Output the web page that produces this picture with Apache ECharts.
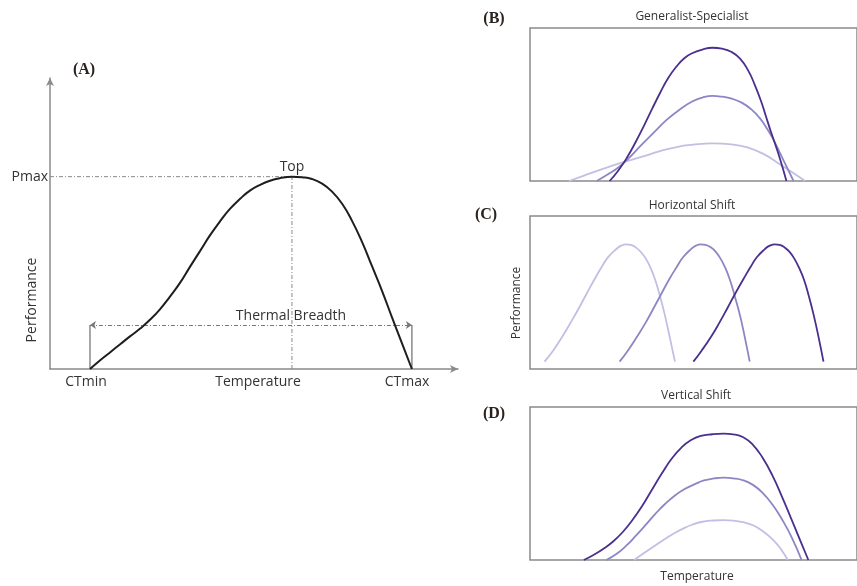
<!DOCTYPE html>
<html><head><meta charset="utf-8">
<script src="https://cdn.jsdelivr.net/npm/echarts@6/dist/echarts.min.js"></script>
<style>html,body{margin:0;padding:0;background:#fff}#chart{width:857px;height:586px}</style>
</head><body><div id="chart"></div>
<script>
// (A) thermal performance curve: temperature vs performance (arbitrary units)
const tpcTemp = [9.8, 12.3, 14.7, 17.2, 19.6, 22.1, 24.5, 27.0, 29.4, 31.9, 34.3, 36.8, 39.2, 41.7, 44.1, 46.6, 49.0, 51.5, 53.9, 56.4, 59.3,
                 61.8, 64.2, 66.7, 69.1, 71.6, 74.0, 76.5, 78.9, 81.4, 83.8, 86.3, 88.7];
const tpcPerf = [0, 3.0, 5.7, 8.5, 11.2, 13.9, 16.9, 20.6, 24.9, 29.7, 35.1, 40.6, 45.9, 50.8, 55.0, 58.5, 61.3, 63.3, 64.7, 65.6, 66.1,
                 65.9, 65.3, 63.7, 61.0, 56.8, 51.0, 43.6, 35.4, 26.8, 17.8, 8.7, 0];
const ctMin = 9.8, ctMax = 88.7, tOpt = 59.3, pMax = 66.1, breadthLevel = 15.1;

// (B) generalist-specialist trade-off
const bSpecT = [24.7, 27.3, 30.3, 32.8, 35.4, 37.9, 40.4, 42.9, 45.5, 48.0, 50.5, 53.5, 56.6, 59.6, 62.6, 65.2, 67.7, 69.7, 71.7, 73.2, 74.7, 76.3, 77.8, 79.6];
const bSpecP = [0, 6.5, 16.0, 25.5, 36.2, 47.1, 57.7, 67.3, 74.9, 80.4, 83.7, 85.9, 87.1, 86.5, 84.3, 80.0, 72.3, 63.2, 52.3, 42.5, 32.7, 22.9, 13.1, 0];
const bMidT = [20.7, 24.2, 27.3, 30.3, 34.3, 38.4, 42.4, 46.5, 50.5, 53.5, 56.6, 59.6, 62.6, 65.7, 68.7, 71.2, 73.7, 75.8, 77.8, 79.8, 81.8];
const bMidP = [0, 4.4, 8.7, 14.2, 22.9, 31.6, 39.9, 46.8, 52.1, 54.5, 55.6, 55.1, 53.8, 51.2, 46.8, 41.4, 33.8, 26.1, 17.4, 8.7, 0];
const bGenT = [12.1, 17.2, 22.2, 26.3, 30.3, 35.4, 40.4, 45.5, 50.5, 56.6, 62.6, 67.7, 72.7, 76.8, 80.8, 85.4];
const bGenP = [0, 3.9, 7.6, 10.5, 13.1, 16.3, 19.6, 22.2, 23.7, 24.6, 24.0, 21.8, 17.4, 12.0, 6.5, 0];

// (C) horizontal shift: one curve shape at three positions along temperature
const cPerf = [4.8, 11.8, 21.4, 30.3, 39.9, 49.7, 59.3, 66.5, 73.0, 78.4, 80.6, 81.5, 81.1, 79.5, 76.7, 72.3, 66.2, 58.0, 47.3, 34.9, 20.5, 4.8];
const cLowT = [4.5, 7.1, 10.1, 12.6, 15.2, 17.7, 20.2, 22.2, 24.2, 26.8, 28.3, 29.8, 31.3, 32.8, 34.3, 35.9, 37.4, 38.9, 40.4, 41.9, 43.4, 45.0];
const cMidT = [27.8, 30.3, 33.3, 35.9, 38.4, 40.9, 43.4, 45.5, 47.5, 50.0, 51.5, 53.0, 54.5, 56.1, 57.6, 59.1, 60.6, 62.1, 63.6, 65.2, 66.7, 68.2];
const cHighT = [50.7, 53.2, 56.3, 58.8, 61.3, 63.8, 66.4, 68.4, 70.4, 72.9, 74.4, 76.0, 77.5, 79.0, 80.5, 82.0, 83.5, 85.1, 86.6, 88.1, 89.6, 91.1];

// (D) vertical shift
const dHighT = [16.7, 19.7, 22.7, 25.8, 28.8, 31.8, 34.9, 37.9, 40.9, 43.9, 47.0, 50.0, 53.0, 56.6, 60.1,
                63.1, 66.2, 69.2, 72.2, 75.3, 78.3, 81.3, 83.8, 86.4];
const dHighP = [0, 3.3, 7.2, 12.1, 18.3, 26.1, 35.6, 46.1, 56.5, 66.0, 73.5, 78.4, 81.1, 82.2, 82.6,
                82.1, 80.2, 75.3, 66.8, 55.0, 41.0, 25.9, 13.1, 0];
const dMidT = [23.7, 26.8, 29.8, 32.8, 35.9, 38.9, 41.9, 45.0, 48.0, 51.0, 54.0, 57.1, 60.1,
               63.1, 66.2, 69.2, 72.2, 75.3, 78.3, 81.3, 84.3];
const dMidP = [0, 3.9, 9.2, 15.7, 22.9, 30.1, 36.6, 42.2, 46.4, 49.4, 52.0, 53.3, 53.8,
               53.4, 52.1, 49.1, 43.9, 36.1, 26.3, 14.5, 0];
const dLowT = [32.3, 35.4, 38.4, 41.4, 44.4, 47.5, 50.5, 53.5, 56.6, 60.1, 63.1, 66.2, 69.2, 72.2, 75.3, 77.8, 80.0];
const dLowP = [0, 4.5, 8.8, 13.1, 17.0, 20.5, 23.2, 25.0, 25.8, 26.1, 25.8, 24.7, 22.7, 19.0, 13.5, 7.4, 0];

const DARK = '#4b2f8e', MID = '#8d86c4', LIGHT = '#c1c0e3';
const TXT = '#333';
const FONT = "'Open Sans', sans-serif";
const pairs = (xs, ys) => xs.map((x, i) => [x, ys[i]]);

const boxStyle = { show: true, borderColor: '#8a8a8a', borderWidth: 1.5 };
const grids = [
  { left: 50, top: 78, width: 408, height: 291 },                          // A
  Object.assign({ left: 530, top: 28, width: 335, height: 153 }, boxStyle),  // B
  Object.assign({ left: 530, top: 216, width: 335, height: 153 }, boxStyle), // C
  Object.assign({ left: 530, top: 407, width: 335, height: 153 }, boxStyle)  // D
];

const hiddenAxis = (i, max) => ({
  type: 'value', gridIndex: i, min: 0, max: max,
  axisLine: { show: false }, axisTick: { show: false }, axisLabel: { show: false }, splitLine: { show: false }
});
const arrowAxis = {
  type: 'value', gridIndex: 0, min: 0, max: 100,
  axisLine: { lineStyle: { color: '#8a8a8a', width: 1.5 }, symbol: ['none', 'arrow'], symbolSize: [6, 8] },
  axisTick: { show: false }, axisLabel: { show: false }, splitLine: { show: false }
};

const xAxes = [arrowAxis, hiddenAxis(1, 101.5), hiddenAxis(2, 101.5), hiddenAxis(3, 101.5)];
const yAxes = [arrowAxis, hiddenAxis(1, 100), hiddenAxis(2, 100), hiddenAxis(3, 100)];

const curve = (g, xs, ys, color, w) => ({
  type: 'line', xAxisIndex: g, yAxisIndex: g, data: pairs(xs, ys),
  smooth: 0.5, showSymbol: false, silent: true,
  lineStyle: { color: color, width: w }, z: 5
});
const guide = (pts, type, color, w) => ({
  type: 'line', xAxisIndex: 0, yAxisIndex: 0, data: pts, showSymbol: false, silent: true,
  lineStyle: { color: color || '#8a8a8a', width: w || 1, type: type }, z: 3
});

const dashDot = [4, 2, 1, 2];

const series = [
  curve(0, tpcTemp, tpcPerf, '#1e1e1e', 2),
  guide([[0, pMax], [tOpt, pMax]], dashDot),
  guide([[tOpt, 0], [tOpt, pMax]], dashDot),
  guide([[ctMin, 0], [ctMin, breadthLevel]], 'solid', '#8a8a8a', 1.5),
  guide([[ctMax, 0], [ctMax, breadthLevel]], 'solid', '#8a8a8a', 1.5),
  {
    type: 'lines', coordinateSystem: 'cartesian2d', xAxisIndex: 0, yAxisIndex: 0, silent: true,
    symbol: ['arrow', 'arrow'], symbolSize: 6,
    lineStyle: { color: '#777', width: 1, type: dashDot, opacity: 1 },
    data: [{ coords: [[ctMin, breadthLevel], [ctMax, breadthLevel]] }], z: 4
  },
  curve(1, bGenT, bGenP, LIGHT, 1.8),
  curve(1, bMidT, bMidP, MID, 1.8),
  curve(1, bSpecT, bSpecP, DARK, 1.8),
  curve(2, cLowT, cPerf, LIGHT, 1.8),
  curve(2, cMidT, cPerf, MID, 1.8),
  curve(2, cHighT, cPerf, DARK, 1.8),
  curve(3, dLowT, dLowP, LIGHT, 1.8),
  curve(3, dMidT, dMidP, MID, 1.8),
  curve(3, dHighT, dHighP, DARK, 1.8)
];

const txt = (x, y, text, opts) => Object.assign({
  type: 'text', x: x, y: y, silent: true,
  style: Object.assign({ text: text, fill: TXT, font: '14px ' + FONT, align: 'center', verticalAlign: 'middle' }, (opts && opts.style) || {})
}, opts && opts.rotation ? { rotation: opts.rotation } : {});
const panelLabel = (x, y, t) => txt(x, y, t, { style: { font: "bold 16px 'Liberation Serif', serif", fill: '#2a2320' } });
const small = (x, y, t, rot) => txt(x, y, t, { style: { font: '12px ' + FONT }, rotation: rot });

const graphic = [
  panelLabel(84, 70, '(A)'),
  txt(48, 177, 'Pmax', { style: { align: 'right' } }),
  txt(292, 167, 'Top'),
  txt(32, 300, 'Performance', { rotation: Math.PI / 2 }),
  txt(291, 316, 'Thermal Breadth'),
  txt(86, 382, 'CTmin'),
  txt(258, 382, 'Temperature'),
  txt(407, 382, 'CTmax'),
  panelLabel(494, 19, '(B)'),
  small(692, 17, 'Generalist-Specialist'),
  panelLabel(486, 215, '(C)'),
  small(692, 206, 'Horizontal Shift'),
  small(517, 303, 'Performance', Math.PI / 2),
  panelLabel(494, 414, '(D)'),
  small(696, 396, 'Vertical Shift'),
  small(697, 577, 'Temperature')
];

const chart = echarts.init(document.getElementById('chart'), null, { renderer: 'canvas' });
chart.setOption({
  animation: false,
  backgroundColor: '#fff',
  grid: grids,
  xAxis: xAxes,
  yAxis: yAxes,
  series: series,
  graphic: graphic
});
</script>
</body></html>
